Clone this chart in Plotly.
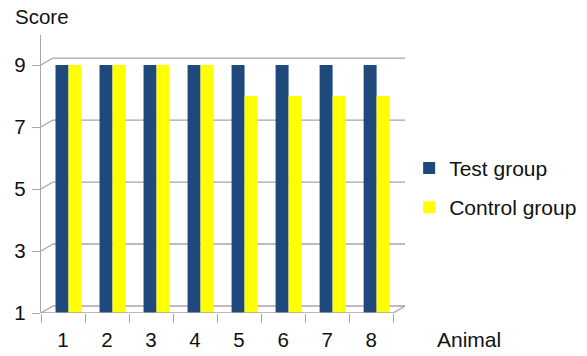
import plotly.graph_objects as go

# ---- data ----
animals = ["1", "2", "3", "4", "5", "6", "7", "8"]
test_group = [9, 9, 9, 9, 9, 9, 9, 9]
control_group = [9, 9, 9, 9, 8, 8, 8, 8]
y_ticks = [1, 3, 5, 7, 9]
series_names = ["Test group", "Control group"]

# ---- style ----
BLUE = "#1f497d"
YELLOW = "#ffff00"
GRID = "#a6a6a6"
FONT = "Liberation Sans, Arial, sans-serif"
FS = 20.5
BASE = 1
DX = 0.27   # depth offset (category units)
DY = 0.226  # depth offset (value units)

fig = go.Figure()
fig.add_trace(go.Bar(
    x=animals, y=[v - BASE for v in test_group], base=BASE,
    name=series_names[0], marker=dict(color=BLUE, line=dict(width=0)),
    width=0.295, offset=-0.17, legendgroup="a",
))
fig.add_trace(go.Bar(
    x=animals, y=[v - BASE for v in control_group], base=BASE,
    name=series_names[1], marker=dict(color=YELLOW, line=dict(width=0)),
    width=0.295, offset=0.125, legendgroup="b",
))

n = len(animals)
x0, x1 = -0.5, n - 0.5
shapes = []
line = dict(color=GRID, width=1.3)
# back-wall gridlines
for t in y_ticks[1:]:
    shapes.append(dict(type="line", xref="x", yref="y", x0=x0, y0=t, x1=x0 + DX, y1=t + DY, line=line, layer="below"))
    shapes.append(dict(type="line", xref="x", yref="y", x0=x0 + DX, y0=t + DY, x1=x1 + DX, y1=t + DY, line=line, layer="below"))
# floor
shapes.append(dict(type="line", xref="x", yref="y", x0=x0, y0=BASE, x1=x0 + DX, y1=BASE + DY, line=line, layer="below"))
shapes.append(dict(type="line", xref="x", yref="y", x0=x0 + DX, y0=BASE + DY, x1=x1 + DX, y1=BASE + DY, line=line, layer="below"))
shapes.append(dict(type="line", xref="x", yref="y", x0=x1, y0=BASE, x1=x1 + DX, y1=BASE + DY, line=line, layer="below"))
shapes.append(dict(type="line", xref="x", yref="y", x0=x0, y0=BASE, x1=x1, y1=BASE, line=line, layer="above"))

fig.update_layout(
    width=587, height=356,
    margin=dict(l=41, r=182, t=35, b=43, pad=0),
    paper_bgcolor="white", plot_bgcolor="white",
    font=dict(family=FONT, size=FS, color="#111111"),
    barmode="overlay",
    shapes=shapes,
    showlegend=True,
    legend=dict(xref="container", yref="container", x=0.697, y=0.585,
                xanchor="left", yanchor="top",
                font=dict(size=21), tracegroupgap=9, traceorder="grouped",
                itemwidth=30, bgcolor="rgba(0,0,0,0)"),
    xaxis=dict(type="category", range=[x0, x1 + DX], tickson="boundaries",
               ticks="outside", ticklen=9, tickcolor=GRID, tickwidth=1.3,
               showline=False, showgrid=False, zeroline=False, automargin=False,
               ticklabelstandoff=12, tickfont=dict(size=FS)),
    yaxis=dict(range=[BASE, 9.97], tickvals=y_ticks, ticks="outside", ticklen=8,
               tickcolor=GRID, tickwidth=1.3, showline=True, linecolor=GRID, linewidth=1.3,
               showgrid=False, zeroline=False, automargin=False,
               ticklabelstandoff=2, tickfont=dict(size=FS)),
    annotations=[
        dict(text="Score", xref="paper", yref="paper", x=-0.076, y=1.0, yshift=5,
             xanchor="left", yanchor="bottom", showarrow=False, font=dict(size=FS)),
        dict(text="Animal", xref="paper", yref="paper", x=1.082, y=0, yshift=-13,
             xanchor="left", yanchor="top", showarrow=False, font=dict(size=21)),
    ],
)
fig.write_html("out.html")
